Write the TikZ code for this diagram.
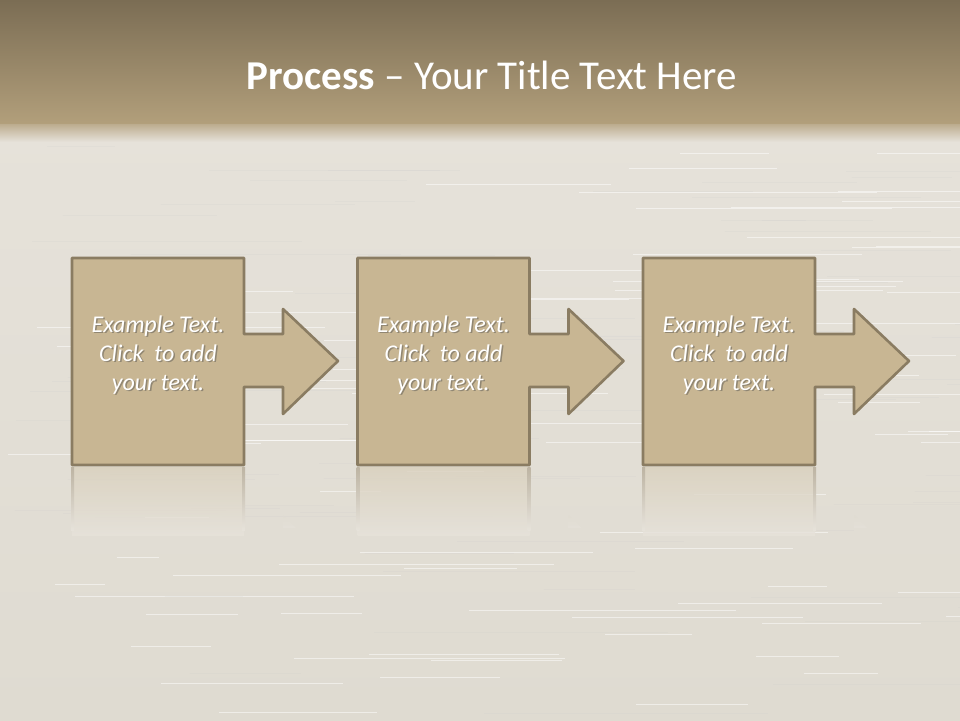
\documentclass[tikz,border=0pt]{standalone}
\usepackage{fontspec}
\setmainfont{Carlito}
\definecolor{bandtop}{HTML}{7B6D54}
\definecolor{bandbot}{HTML}{B29F7B}
\definecolor{woodA}{HTML}{E6E2DA}
\definecolor{woodB}{HTML}{DFDBD1}
\definecolor{boxfill}{HTML}{C8B693}
\definecolor{boxline}{HTML}{8A7C62}
\definecolor{reflA}{HTML}{D9D0BD}
\definecolor{reflLine}{HTML}{BDB4A3}
\tikzset{
  stepshape/.style={fill=boxfill, draw=boxline, line width=2.6pt, line join=round},
  steptext/.style={text=white, font=\fontsize{24}{29}\selectfont\itshape, align=center},
  stepshadow/.style={text=black!70, opacity=0.45, font=\fontsize{24}{29}\selectfont\itshape, align=center},
  streak/.style={line width=0.8pt, opacity=0.18}
}
\begin{document}
\begin{tikzpicture}[x=1pt,y=-1pt]
\useasboundingbox (0,0) rectangle (960,720);
% background wood
\shade[top color=woodA, bottom color=woodB] (0,120) rectangle (960,720);
\pgfmathsetseed{7}
\foreach \i in {1,...,160}{
  \pgfmathsetmacro{\yy}{135+rnd*585}
  \pgfmathsetmacro{\xx}{rnd*960}
  \pgfmathsetmacro{\ll}{40+rnd*260}
  \pgfmathsetmacro{\cc}{rnd}
  \ifdim \cc pt > 0.45pt
    \draw[streak, white, opacity=0.5] (\xx,\yy) -- ++(\ll,0);
  \else
    \draw[streak, black!20] (\xx,\yy) -- ++(\ll,0);
  \fi
}
% top band
\shade[top color=bandtop, bottom color=bandbot] (0,0) rectangle (960,124);
\shade[top color=bandbot!80!woodA, bottom color=woodA] (0,124) rectangle (960,142);
% title
\node (title) [text=white, font=\fontsize{41}{48}\selectfont] at (492,75) {\textbf{Process} – Your Title Text Here};
% steps
\foreach \k/\dx in {1/0, 2/285.5, 3/571}{
  \begin{scope}[xshift=\dx]
    % reflection
    \shade[top color=reflA, bottom color=woodA, opacity=0.8] (72,467) rectangle (244,535);
    \shade[top color=reflLine, bottom color=woodA] (71,467) rectangle (74,530);
    \shade[top color=reflLine, bottom color=woodA] (242,467) rectangle (245,530);
    \shade[top color=woodB, bottom color=woodA, opacity=0.6] (283,515) -- (296,528) -- (283,528) -- cycle;
    % shape
    \draw[stepshape] (72,258) -- (244,258) -- (244,334) -- (283,334) -- (283,309)
      -- (338,361) -- (283,414) -- (283,387) -- (244,387) -- (244,465) -- (72,465) -- cycle;
    \node[stepshadow] at (159.5,356.5) {Example Text.\\Click\ \ to add\\your text.};
    \node (step\k) [steptext] at (158,355) {Example Text.\\Click\ \ to add\\your text.};
  \end{scope}
}
\end{tikzpicture}
\end{document}
